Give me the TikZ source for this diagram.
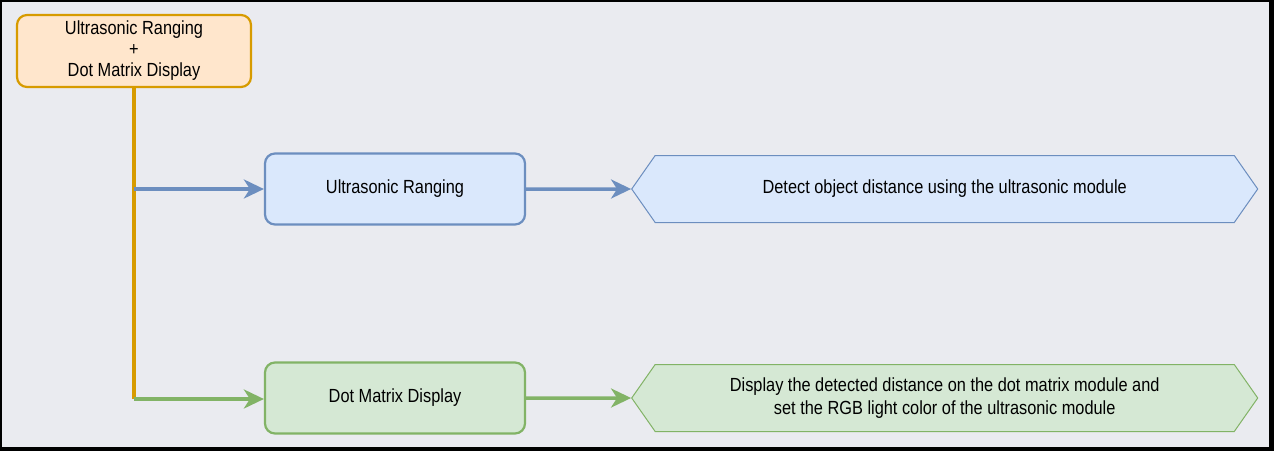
\documentclass[tikz,border=0pt]{standalone}
\usepackage{fontspec}
\setmainfont{Liberation Sans}[FakeStretch=0.86]
\usetikzlibrary{positioning, arrows.meta, shapes.symbols}

\definecolor{bggray}{HTML}{EAEBF0}
\definecolor{orangeline}{HTML}{D79B00}
\definecolor{orangefill}{HTML}{FFE6CC}
\definecolor{blueline}{HTML}{6C8EBF}
\definecolor{bluefill}{HTML}{DAE8FC}
\definecolor{greenline}{HTML}{82B366}
\definecolor{greenfill}{HTML}{D5E8D4}

\tikzset{
  labeltext/.style={font=\fontsize{19}{21}\selectfont, align=center, text=black},
  stagebox/.style={draw, rounded corners=10pt, line width=2.2pt, labeltext,
    minimum width=260pt, minimum height=71pt, inner sep=0pt},
  hexbox/.style={signal, signal to=west and east, signal pointer angle=110,
    draw, line width=1pt, labeltext, minimum width=626pt, minimum height=67pt,
    inner sep=0pt},
  flow/.style={line width=3.5pt, -{Stealth[length=20pt, width=19pt, inset=6pt]}}
}

\begin{document}
\begin{tikzpicture}[x=1pt, y=-1pt]
  % frame and background
  \fill[black] (0,0) rectangle (1274,451);
  \fill[bggray] (2,2) rectangle (1269,447);

  \node[stagebox, draw=orangeline, fill=orangefill, minimum width=234pt, minimum height=72pt]
    (urdm) at (134,51) {Ultrasonic Ranging\\+\\Dot Matrix Display};

  \node[stagebox, draw=blueline, fill=bluefill] (ur) at (395,189) {Ultrasonic Ranging};
  \node[stagebox, draw=greenline, fill=greenfill] (dm) at (395,398) {Dot Matrix Display};

  \node[hexbox, draw=blueline, fill=bluefill, right=105pt of ur] (urd)
    {Detect object distance using the ultrasonic module};
  \node[hexbox, draw=greenline, fill=greenfill, right=105pt of dm, font=\fontsize{19}{23}\selectfont] (dmd)
    {Display the detected distance on the dot matrix module and\\set the RGB light color of the ultrasonic module};

  \coordinate (j1) at (134,189);
  \coordinate (j2) at (134,399);

  \draw[orangeline, line width=3.5pt] (urdm.south) -- (j2);
  \draw[flow, blueline] (j1) -- (ur);
  \draw[flow, greenline] (j2) -- (j2 -| dm.west);
  \draw[flow, blueline] (ur) -- (urd);
  \draw[flow, greenline] (dm) -- (dmd);
\end{tikzpicture}
\end{document}
